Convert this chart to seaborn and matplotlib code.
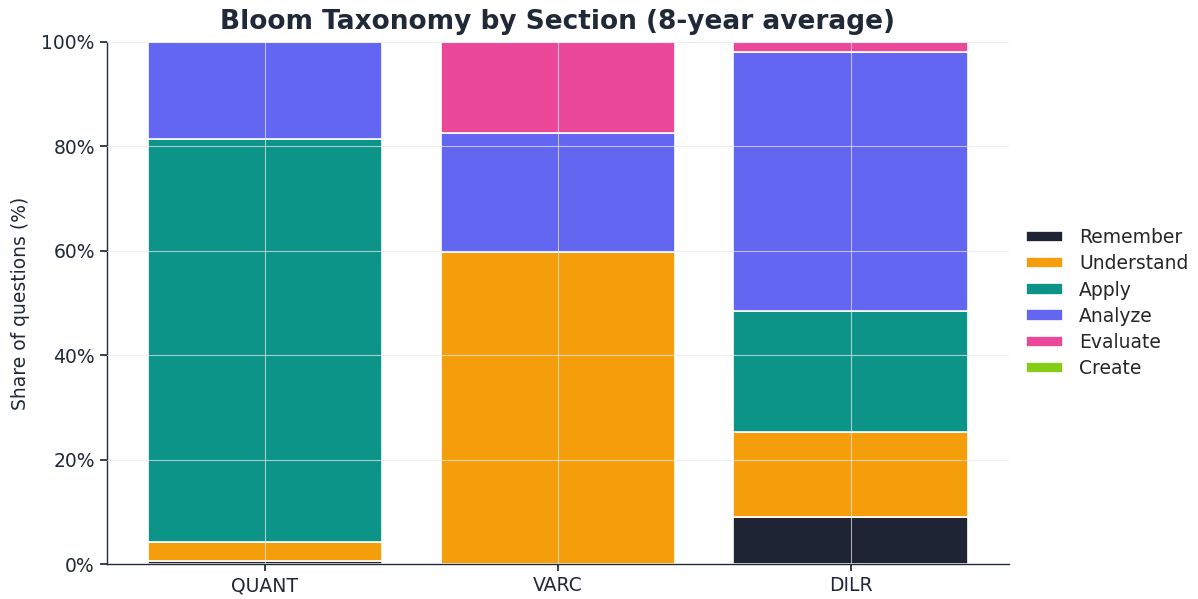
import numpy as np
import pandas as pd
import matplotlib
matplotlib.use("Agg")
import matplotlib.pyplot as plt
import seaborn as sns
from matplotlib.ticker import PercentFormatter

# Data: share of questions (%) per Bloom level, 8-year average
sections = ["QUANT", "VARC", "DILR"]
levels = ["Remember", "Understand", "Apply", "Analyze", "Evaluate", "Create"]
remember = [0.6, 0.0, 9.0]
understand = [3.6, 59.8, 16.3]
apply_ = [77.2, 0.0, 23.2]
analyze = [18.6, 22.8, 49.6]
evaluate = [0.0, 17.4, 1.9]
create = [0.0, 0.0, 0.0]
colors = ["#1e2433", "#f59e0b", "#0d9488", "#6366f1", "#ec4899", "#84cc16"]

dark = "#1f2937"

sns.set_theme(style="white")
plt.rcParams["font.family"] = ["DejaVu Sans"]

fig, ax = plt.subplots(figsize=(11.98, 5.99), dpi=100)
fig.subplots_adjust(left=0.089, right=0.842, top=0.93, bottom=0.058)

series = [remember, understand, apply_, analyze, evaluate, create]
bottom = np.zeros(len(sections))
for name, vals, col in zip(levels, series, colors):
    vals = np.array(vals)
    sns.barplot(x=sections, y=vals, bottom=bottom, color=col, label=name,
                saturation=1, width=0.8, edgecolor="white", linewidth=1.2, ax=ax)
    bottom = bottom + vals

ax.set_ylim(0, 100)
ax.set_xlim(-0.54, 2.54)
ax.yaxis.set_major_formatter(PercentFormatter(decimals=0))
ax.set_yticks([0, 20, 40, 60, 80, 100])
ax.set_axisbelow(False)
ax.grid(True, color="#e5e7eb", linewidth=0.8, alpha=0.7)

ax.set_title("Bloom Taxonomy by Section (8-year average)", fontsize=19,
             fontweight="bold", color=dark, pad=9)
ax.set_ylabel("Share of questions (%)", fontsize=13.5, color=dark, labelpad=8)
ax.set_xlabel("")
ax.tick_params(axis="both", labelsize=13.5, colors=dark, length=5, left=True, bottom=True)
for s in ["top", "right"]:
    ax.spines[s].set_visible(False)
for s in ["left", "bottom"]:
    ax.spines[s].set_color(dark)
    ax.spines[s].set_linewidth(1.0)

ax.legend(loc="center left", bbox_to_anchor=(1.0, 0.5), frameon=False,
          fontsize=13.5, handlelength=2.0, handleheight=0.55, labelspacing=0.38,
          handletextpad=0.85)

fig.savefig("out.png", dpi=100)
